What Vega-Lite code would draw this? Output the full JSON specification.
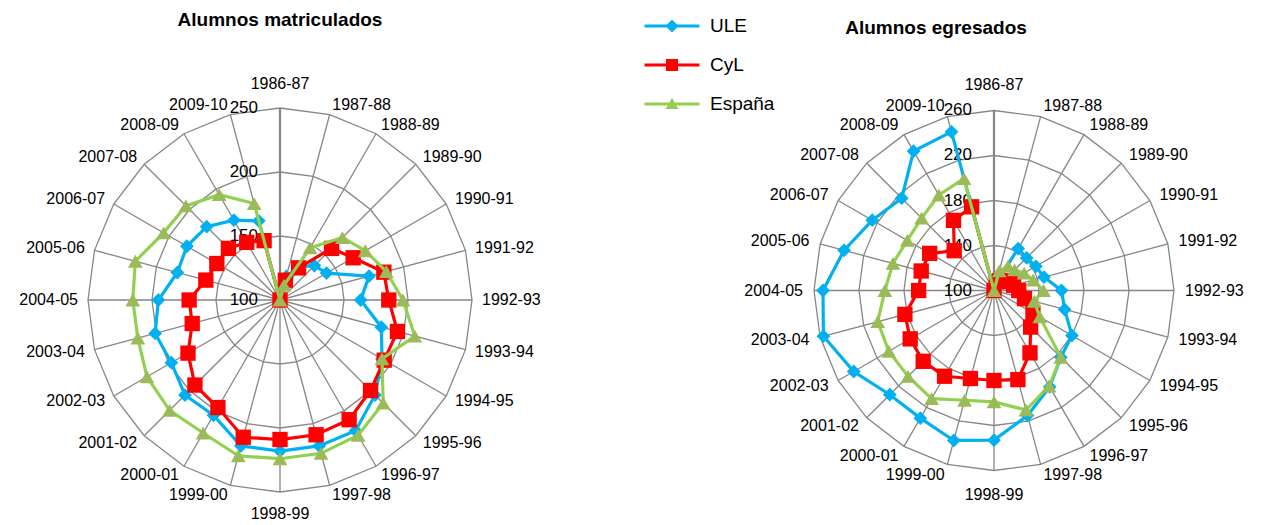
{
  "$schema": "https://vega.github.io/schema/vega-lite/v6.json",
  "padding": 0,
  "spacing": 0,
  "background": "white",
  "config": {
    "view": {"stroke": null},
    "text": {"font": "Liberation Sans", "fontSize": 16, "color": "#000000"},
    "title": {"font": "Liberation Sans", "fontSize": 19, "fontWeight": "bold", "color": "#000000"}
  },
  "datasets": {
    "matric": [
      {"curso": "1986-87", "ULE": 100, "CyL": 100, "España": 100},
      {"curso": "1987-88", "ULE": 119, "CyL": 116, "España": 112},
      {"curso": "1988-89", "ULE": 130, "CyL": 129, "España": 147},
      {"curso": "1989-90", "ULE": 138, "CyL": 157, "España": 169},
      {"curso": "1990-91", "ULE": 142, "CyL": 166, "España": 177},
      {"curso": "1991-92", "ULE": 172, "CyL": 184, "España": 186},
      {"curso": "1992-93", "ULE": 163, "CyL": 185, "España": 196},
      {"curso": "1993-94", "ULE": 182, "CyL": 195, "España": 209},
      {"curso": "1994-95", "ULE": 192, "CyL": 194, "España": 192},
      {"curso": "1995-96", "ULE": 205, "CyL": 200, "España": 214},
      {"curso": "1996-97", "ULE": 218, "CyL": 208, "España": 222},
      {"curso": "1997-98", "ULE": 218, "CyL": 209, "España": 224},
      {"curso": "1998-99", "ULE": 218, "CyL": 209, "España": 224},
      {"curso": "1999-00", "ULE": 218, "CyL": 211, "España": 226},
      {"curso": "2000-01", "ULE": 204, "CyL": 197, "España": 220},
      {"curso": "2001-02", "ULE": 205, "CyL": 194, "España": 222},
      {"curso": "2002-03", "ULE": 198, "CyL": 183, "España": 220},
      {"curso": "2003-04", "ULE": 201, "CyL": 171, "España": 215},
      {"curso": "2004-05", "ULE": 195, "CyL": 171, "España": 215},
      {"curso": "2005-06", "ULE": 183, "CyL": 160, "España": 217},
      {"curso": "2006-07", "ULE": 184, "CyL": 157, "España": 205},
      {"curso": "2007-08", "ULE": 181, "CyL": 157, "España": 204},
      {"curso": "2008-09", "ULE": 172, "CyL": 152, "España": 195},
      {"curso": "2009-10", "ULE": 164, "CyL": 148, "España": 178}
    ],
    "egres": [
      {"curso": "1986-87", "ULE": 100, "CyL": 100, "España": 100},
      {"curso": "1987-88", "ULE": 108, "CyL": 108, "España": 118},
      {"curso": "1988-89", "ULE": 143, "CyL": 110, "España": 125},
      {"curso": "1989-90", "ULE": 141, "CyL": 112, "España": 126},
      {"curso": "1990-91", "ULE": 143, "CyL": 116, "España": 131},
      {"curso": "1991-92", "ULE": 146, "CyL": 118, "España": 136},
      {"curso": "1992-93", "ULE": 160, "CyL": 122, "España": 144},
      {"curso": "1993-94", "ULE": 165, "CyL": 128, "España": 137},
      {"curso": "1994-95", "ULE": 180, "CyL": 140, "España": 147},
      {"curso": "1995-96", "ULE": 184, "CyL": 146, "España": 184},
      {"curso": "1996-97", "ULE": 199, "CyL": 164, "España": 198},
      {"curso": "1997-98", "ULE": 215, "CyL": 182, "España": 210},
      {"curso": "1998-99", "ULE": 233, "CyL": 180, "España": 199},
      {"curso": "1999-00", "ULE": 238, "CyL": 181, "España": 201},
      {"curso": "2000-01", "ULE": 231, "CyL": 188, "España": 211},
      {"curso": "2001-02", "ULE": 231, "CyL": 189, "España": 208},
      {"curso": "2002-03", "ULE": 244, "CyL": 186, "España": 208},
      {"curso": "2003-04", "ULE": 257, "CyL": 182, "España": 207},
      {"curso": "2004-05", "ULE": 252, "CyL": 167, "España": 197},
      {"curso": "2005-06", "ULE": 238, "CyL": 167, "España": 193},
      {"curso": "2006-07", "ULE": 225, "CyL": 166, "España": 189},
      {"curso": "2007-08", "ULE": 216, "CyL": 150, "España": 191},
      {"curso": "2008-09", "ULE": 243, "CyL": 172, "España": 198},
      {"curso": "2009-10", "ULE": 246, "CyL": 177, "España": 203}
    ],
    "anillos_m": [
      {"nivel": 150, "k": [0,1,2,3,4,5,6,7,8,9,10,11,12,13,14,15,16,17,18,19,20,21,22,23]},
      {"nivel": 200, "k": [0,1,2,3,4,5,6,7,8,9,10,11,12,13,14,15,16,17,18,19,20,21,22,23]},
      {"nivel": 250, "k": [0,1,2,3,4,5,6,7,8,9,10,11,12,13,14,15,16,17,18,19,20,21,22,23]}
    ],
    "anillos_e": [
      {"nivel": 140, "k": [0,1,2,3,4,5,6,7,8,9,10,11,12,13,14,15,16,17,18,19,20,21,22,23]},
      {"nivel": 180, "k": [0,1,2,3,4,5,6,7,8,9,10,11,12,13,14,15,16,17,18,19,20,21,22,23]},
      {"nivel": 220, "k": [0,1,2,3,4,5,6,7,8,9,10,11,12,13,14,15,16,17,18,19,20,21,22,23]},
      {"nivel": 260, "k": [0,1,2,3,4,5,6,7,8,9,10,11,12,13,14,15,16,17,18,19,20,21,22,23]}
    ],
    "ticks_m": [{"nivel": 100}, {"nivel": 150}, {"nivel": 200}, {"nivel": 250}],
    "ticks_e": [{"nivel": 100}, {"nivel": 140}, {"nivel": 180}, {"nivel": 220}, {"nivel": 260}]
  },
  "hconcat": [
    {
      "width": 560,
      "height": 525,
      "title": {"text": "Alumnos matriculados", "frame": "group", "anchor": "middle", "offset": -45, "baseline": "alphabetic"},
      "layer": [
        {
          "data": {"name": "anillos_m"},
          "transform": [
            {"flatten": ["k"]},
            {"calculate": "(datum.nivel-100)*sin(datum.k*PI/12)", "as": "x"},
            {"calculate": "(datum.nivel-100)*cos(datum.k*PI/12)", "as": "y"}
          ],
          "mark": {"type": "line", "interpolate": "linear-closed", "color": "#868686", "strokeWidth": 1.3},
          "encoding": {
            "x": {"field": "x", "type": "quantitative", "scale": {"domain": [-218.75, 218.75], "nice": false, "zero": false}, "axis": null},
            "y": {"field": "y", "type": "quantitative", "scale": {"domain": [-175.78, 234.375], "nice": false, "zero": false}, "axis": null},
            "detail": {"field": "nivel", "type": "nominal"},
            "order": {"field": "k", "type": "quantitative"}
          }
        },
        {
          "data": {"name": "matric"},
          "transform": [
            {"calculate": "(toNumber(substring(datum.curso,0,4))-1986)*PI/12", "as": "a"},
            {"calculate": "150*sin(datum.a)", "as": "x"},
            {"calculate": "150*cos(datum.a)", "as": "y"}
          ],
          "mark": {"type": "rule", "color": "#868686", "strokeWidth": 1.3},
          "encoding": {
            "x": {"field": "x", "type": "quantitative"},
            "y": {"field": "y", "type": "quantitative"},
            "x2": {"datum": 0},
            "y2": {"datum": 0}
          }
        },
        {
          "data": {"name": "matric"},
          "transform": [{"filter": "datum.curso == '1986-87'"}, {"calculate": "150", "as": "y"}, {"calculate": "0", "as": "x"}],
          "mark": {"type": "rule", "color": "#868686", "strokeWidth": 2.2},
          "encoding": {
            "x": {"field": "x", "type": "quantitative"},
            "y": {"field": "y", "type": "quantitative"},
            "x2": {"datum": 0},
            "y2": {"datum": 0}
          }
        },
        {
          "data": {"name": "ticks_m"},
          "transform": [{"calculate": "datum.nivel-100", "as": "y"}, {"calculate": "0", "as": "x"}],
          "mark": {"type": "text", "align": "right", "baseline": "middle", "dx": -22, "fontSize": 17},
          "encoding": {
            "x": {"field": "x", "type": "quantitative"},
            "y": {"field": "y", "type": "quantitative"},
            "text": {"field": "nivel", "type": "nominal"}
          }
        },
        {
          "data": {"name": "matric"},
          "transform": [
            {"calculate": "toNumber(substring(datum.curso,0,4))-1986", "as": "k"},
            {"filter": "datum.k == 0"},
            {"calculate": "0", "as": "x"}, {"calculate": "157.8", "as": "y"}
          ],
          "mark": {"type": "text", "align": "center", "baseline": "bottom", "dy": -6},
          "encoding": {"x": {"field": "x", "type": "quantitative"}, "y": {"field": "y", "type": "quantitative"}, "text": {"field": "curso"}}
        },
        {
          "data": {"name": "matric"},
          "transform": [
            {"calculate": "toNumber(substring(datum.curso,0,4))-1986", "as": "k"},
            {"filter": "datum.k == 12"},
            {"calculate": "0", "as": "x"}, {"calculate": "-157.8", "as": "y"}
          ],
          "mark": {"type": "text", "align": "center", "baseline": "top", "dy": 4},
          "encoding": {"x": {"field": "x", "type": "quantitative"}, "y": {"field": "y", "type": "quantitative"}, "text": {"field": "curso"}}
        },
        {
          "data": {"name": "matric"},
          "transform": [
            {"calculate": "toNumber(substring(datum.curso,0,4))-1986", "as": "k"},
            {"filter": "datum.k > 0 && datum.k < 12"},
            {"calculate": "157.8*sin(datum.k*PI/12)", "as": "x"},
            {"calculate": "157.8*cos(datum.k*PI/12)", "as": "y"}
          ],
          "mark": {"type": "text", "align": "left", "baseline": "middle"},
          "encoding": {"x": {"field": "x", "type": "quantitative"}, "y": {"field": "y", "type": "quantitative"}, "text": {"field": "curso"}}
        },
        {
          "data": {"name": "matric"},
          "transform": [
            {"calculate": "toNumber(substring(datum.curso,0,4))-1986", "as": "k"},
            {"filter": "datum.k > 12"},
            {"calculate": "157.8*sin(datum.k*PI/12)", "as": "x"},
            {"calculate": "157.8*cos(datum.k*PI/12)", "as": "y"}
          ],
          "mark": {"type": "text", "align": "right", "baseline": "middle"},
          "encoding": {"x": {"field": "x", "type": "quantitative"}, "y": {"field": "y", "type": "quantitative"}, "text": {"field": "curso"}}
        },
        {
          "data": {"name": "matric"},
          "transform": [
            {"calculate": "toNumber(substring(datum.curso,0,4))-1986", "as": "k"},
            {"calculate": "(datum.ULE-100)*sin(datum.k*PI/12)", "as": "x"},
            {"calculate": "(datum.ULE-100)*cos(datum.k*PI/12)", "as": "y"}
          ],
          "mark": {"type": "line", "interpolate": "linear-closed", "color": "#00B0F0", "strokeWidth": 3.2, "point": {"shape": "diamond", "size": 190, "filled": true, "color": "#00B0F0", "opacity": 1}},
          "encoding": {"x": {"field": "x", "type": "quantitative"}, "y": {"field": "y", "type": "quantitative"}, "order": {"field": "k", "type": "quantitative"}}
        },
        {
          "data": {"name": "matric"},
          "transform": [
            {"calculate": "toNumber(substring(datum.curso,0,4))-1986", "as": "k"},
            {"calculate": "(datum.CyL-100)*sin(datum.k*PI/12)", "as": "x"},
            {"calculate": "(datum.CyL-100)*cos(datum.k*PI/12)", "as": "y"}
          ],
          "mark": {"type": "line", "interpolate": "linear-closed", "color": "#FF0000", "strokeWidth": 3.2, "point": {"shape": "square", "size": 235, "filled": true, "color": "#FF0000", "opacity": 1}},
          "encoding": {"x": {"field": "x", "type": "quantitative"}, "y": {"field": "y", "type": "quantitative"}, "order": {"field": "k", "type": "quantitative"}}
        },
        {
          "data": {"name": "matric"},
          "transform": [
            {"calculate": "toNumber(substring(datum.curso,0,4))-1986", "as": "k"},
            {"calculate": "(datum['España']-100)*sin(datum.k*PI/12)", "as": "x"},
            {"calculate": "(datum['España']-100)*cos(datum.k*PI/12)", "as": "y"}
          ],
          "mark": {"type": "line", "interpolate": "linear-closed", "color": "#92D050", "strokeWidth": 3.2, "point": {"shape": "triangle-up", "size": 220, "filled": true, "color": "#9BBB59", "opacity": 1}},
          "encoding": {"x": {"field": "x", "type": "quantitative"}, "y": {"field": "y", "type": "quantitative"}, "order": {"field": "k", "type": "quantitative"}}
        },
        {
          "data": {"name": "matric"},
          "transform": [
            {"filter": "datum.curso == '1986-87'"},
            {"fold": ["ULE", "CyL", "España"], "as": ["serie", "valor"]},
            {"calculate": "0", "as": "x"}, {"calculate": "0", "as": "y"}
          ],
          "mark": {"type": "point", "filled": true, "opacity": 0},
          "encoding": {
            "x": {"field": "x", "type": "quantitative"},
            "y": {"field": "y", "type": "quantitative"},
            "fill": {
              "field": "serie", "type": "nominal",
              "scale": {"domain": ["ULE", "CyL", "España"], "range": ["#00B0F0", "#FF0000", "#92D050"]},
              "legend": {"title": null, "orient": "none", "legendX": 662, "legendY": 16, "labelFontSize": 19, "labelFont": "Liberation Sans", "labelColor": "#000000", "labelOffset": 28, "symbolSize": 400, "symbolOpacity": 1, "symbolStrokeWidth": 0, "rowPadding": 19}
            },
            "shape": {
              "field": "serie", "type": "nominal",
              "scale": {"domain": ["ULE", "CyL", "España"], "range": [
                "M-2.75,-0.15H2.75V0.15H-2.75Z M0,-0.65L0.65,0L0,0.65L-0.65,0Z",
                "M-2.75,-0.15H2.75V0.15H-2.75Z M-0.6,-0.6H0.6V0.6H-0.6Z",
                "M-2.75,-0.15H2.75V0.15H-2.75Z M0,-0.6L0.65,0.5H-0.65Z"
              ]},
              "legend": {"title": null, "orient": "none", "legendX": 662, "legendY": 16, "labelFontSize": 19, "labelFont": "Liberation Sans", "labelColor": "#000000", "labelOffset": 28, "symbolSize": 400, "symbolOpacity": 1, "symbolStrokeWidth": 0, "rowPadding": 19}
            }
          }
        }
      ]
    },
    {
      "width": 704,
      "height": 525,
      "title": {"text": "Alumnos egresados", "frame": "group", "anchor": "middle", "offset": -53, "dx": 24, "baseline": "alphabetic"},
      "layer": [
        {
          "data": {"name": "anillos_e"},
          "transform": [
            {"flatten": ["k"]},
            {"calculate": "(datum.nivel-100)*sin(datum.k*PI/12)", "as": "x"},
            {"calculate": "(datum.nivel-100)*cos(datum.k*PI/12)", "as": "y"}
          ],
          "mark": {"type": "line", "interpolate": "linear-closed", "color": "#868686", "strokeWidth": 1.3},
          "encoding": {
            "x": {"field": "x", "type": "quantitative", "scale": {"domain": [-385.78, 240], "nice": false, "zero": false}, "axis": null},
            "y": {"field": "y", "type": "quantitative", "scale": {"domain": [-208.44, 258.22], "nice": false, "zero": false}, "axis": null},
            "detail": {"field": "nivel", "type": "nominal"},
            "order": {"field": "k", "type": "quantitative"}
          }
        },
        {
          "data": {"name": "egres"},
          "transform": [
            {"calculate": "(toNumber(substring(datum.curso,0,4))-1986)*PI/12", "as": "a"},
            {"calculate": "160*sin(datum.a)", "as": "x"},
            {"calculate": "160*cos(datum.a)", "as": "y"}
          ],
          "mark": {"type": "rule", "color": "#868686", "strokeWidth": 1.3},
          "encoding": {
            "x": {"field": "x", "type": "quantitative"},
            "y": {"field": "y", "type": "quantitative"},
            "x2": {"datum": 0},
            "y2": {"datum": 0}
          }
        },
        {
          "data": {"name": "egres"},
          "transform": [{"filter": "datum.curso == '1986-87'"}, {"calculate": "160", "as": "y"}, {"calculate": "0", "as": "x"}],
          "mark": {"type": "rule", "color": "#868686", "strokeWidth": 2.2},
          "encoding": {
            "x": {"field": "x", "type": "quantitative"},
            "y": {"field": "y", "type": "quantitative"},
            "x2": {"datum": 0},
            "y2": {"datum": 0}
          }
        },
        {
          "data": {"name": "ticks_e"},
          "transform": [{"calculate": "datum.nivel-100", "as": "y"}, {"calculate": "0", "as": "x"}],
          "mark": {"type": "text", "align": "right", "baseline": "middle", "dx": -22, "fontSize": 17},
          "encoding": {
            "x": {"field": "x", "type": "quantitative"},
            "y": {"field": "y", "type": "quantitative"},
            "text": {"field": "nivel", "type": "nominal"}
          }
        },
        {
          "data": {"name": "egres"},
          "transform": [
            {"calculate": "toNumber(substring(datum.curso,0,4))-1986", "as": "k"},
            {"filter": "datum.k == 0"},
            {"calculate": "0", "as": "x"}, {"calculate": "169.8", "as": "y"}
          ],
          "mark": {"type": "text", "align": "center", "baseline": "bottom", "dy": -6},
          "encoding": {"x": {"field": "x", "type": "quantitative"}, "y": {"field": "y", "type": "quantitative"}, "text": {"field": "curso"}}
        },
        {
          "data": {"name": "egres"},
          "transform": [
            {"calculate": "toNumber(substring(datum.curso,0,4))-1986", "as": "k"},
            {"filter": "datum.k == 12"},
            {"calculate": "0", "as": "x"}, {"calculate": "-169.8", "as": "y"}
          ],
          "mark": {"type": "text", "align": "center", "baseline": "top", "dy": 5},
          "encoding": {"x": {"field": "x", "type": "quantitative"}, "y": {"field": "y", "type": "quantitative"}, "text": {"field": "curso"}}
        },
        {
          "data": {"name": "egres"},
          "transform": [
            {"calculate": "toNumber(substring(datum.curso,0,4))-1986", "as": "k"},
            {"filter": "datum.k > 0 && datum.k < 12"},
            {"calculate": "169.8*sin(datum.k*PI/12)", "as": "x"},
            {"calculate": "169.8*cos(datum.k*PI/12)", "as": "y"}
          ],
          "mark": {"type": "text", "align": "left", "baseline": "middle"},
          "encoding": {"x": {"field": "x", "type": "quantitative"}, "y": {"field": "y", "type": "quantitative"}, "text": {"field": "curso"}}
        },
        {
          "data": {"name": "egres"},
          "transform": [
            {"calculate": "toNumber(substring(datum.curso,0,4))-1986", "as": "k"},
            {"filter": "datum.k > 12"},
            {"calculate": "169.8*sin(datum.k*PI/12)", "as": "x"},
            {"calculate": "169.8*cos(datum.k*PI/12)", "as": "y"}
          ],
          "mark": {"type": "text", "align": "right", "baseline": "middle"},
          "encoding": {"x": {"field": "x", "type": "quantitative"}, "y": {"field": "y", "type": "quantitative"}, "text": {"field": "curso"}}
        },
        {
          "data": {"name": "egres"},
          "transform": [
            {"calculate": "toNumber(substring(datum.curso,0,4))-1986", "as": "k"},
            {"calculate": "(datum.ULE-100)*sin(datum.k*PI/12)", "as": "x"},
            {"calculate": "(datum.ULE-100)*cos(datum.k*PI/12)", "as": "y"}
          ],
          "mark": {"type": "line", "interpolate": "linear-closed", "color": "#00B0F0", "strokeWidth": 3.2, "point": {"shape": "diamond", "size": 190, "filled": true, "color": "#00B0F0", "opacity": 1}},
          "encoding": {"x": {"field": "x", "type": "quantitative"}, "y": {"field": "y", "type": "quantitative"}, "order": {"field": "k", "type": "quantitative"}}
        },
        {
          "data": {"name": "egres"},
          "transform": [
            {"calculate": "toNumber(substring(datum.curso,0,4))-1986", "as": "k"},
            {"calculate": "(datum.CyL-100)*sin(datum.k*PI/12)", "as": "x"},
            {"calculate": "(datum.CyL-100)*cos(datum.k*PI/12)", "as": "y"}
          ],
          "mark": {"type": "line", "interpolate": "linear-closed", "color": "#FF0000", "strokeWidth": 3.2, "point": {"shape": "square", "size": 235, "filled": true, "color": "#FF0000", "opacity": 1}},
          "encoding": {"x": {"field": "x", "type": "quantitative"}, "y": {"field": "y", "type": "quantitative"}, "order": {"field": "k", "type": "quantitative"}}
        },
        {
          "data": {"name": "egres"},
          "transform": [
            {"calculate": "toNumber(substring(datum.curso,0,4))-1986", "as": "k"},
            {"calculate": "(datum['España']-100)*sin(datum.k*PI/12)", "as": "x"},
            {"calculate": "(datum['España']-100)*cos(datum.k*PI/12)", "as": "y"}
          ],
          "mark": {"type": "line", "interpolate": "linear-closed", "color": "#92D050", "strokeWidth": 3.2, "point": {"shape": "triangle-up", "size": 220, "filled": true, "color": "#9BBB59", "opacity": 1}},
          "encoding": {"x": {"field": "x", "type": "quantitative"}, "y": {"field": "y", "type": "quantitative"}, "order": {"field": "k", "type": "quantitative"}}
        }
      ]
    }
  ]
}
